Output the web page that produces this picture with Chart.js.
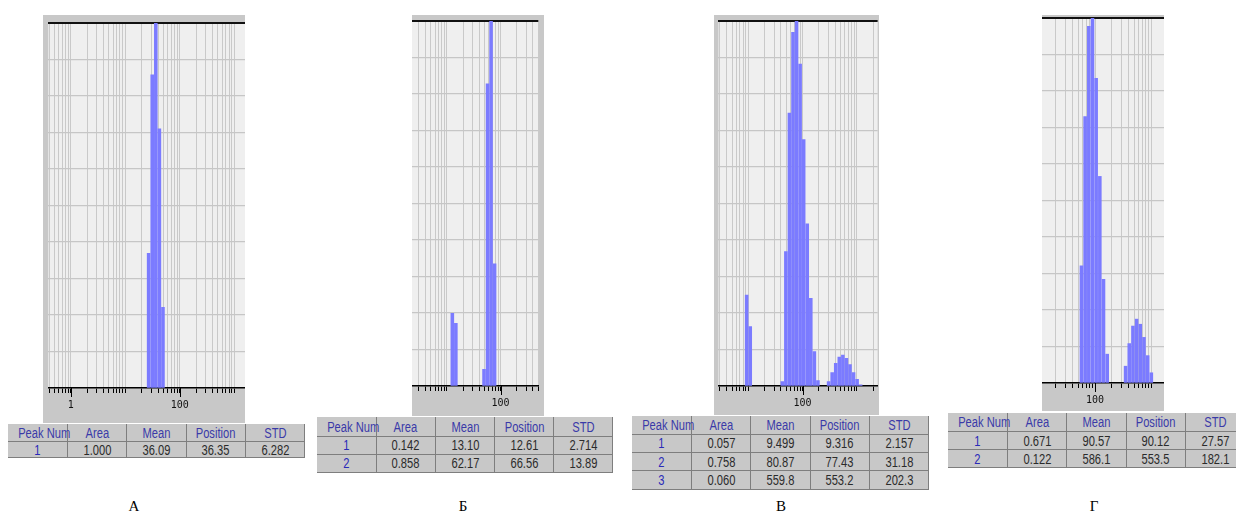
<!DOCTYPE html>
<html><head><meta charset="utf-8">
<script src="https://cdn.jsdelivr.net/npm/chart.js@4.4.1/dist/chart.umd.min.js"></script>
<style>
html,body{margin:0;padding:0;background:#fff;}
#page{position:relative;width:1236px;height:512px;overflow:hidden;background:#fff;}
canvas{display:block;}
table.pk{position:absolute;border-collapse:collapse;table-layout:fixed;background:#c8c8c8;
  font-family:"Liberation Sans",Arial,sans-serif;font-size:15.5px;color:#2b2b2b;}
table.pk td{border-right:1px solid #7e7e7e;border-bottom:1px solid #7e7e7e;text-align:center;padding:0;line-height:1;white-space:nowrap;overflow:visible;}
table.pk td span{display:inline-block;transform:scaleX(0.72);transform-origin:50% 50%;}
table.pk tr.h td{color:#3a3aa8;}
table.pk td.n{color:#2a2ab8;}
.lbl{position:absolute;font-family:"Liberation Serif","Times New Roman",serif;font-size:15px;color:#000;transform:translate(-50%,-50%);}
</style></head>
<body><div id="page"></div>
<script>
// ---- data ----
const SIZES_A  = [26.86, 31.25, 36.36, 42.29, 49.20];
const VALUES_A = [36.9, 85.8, 100, 71.0, 22.1];

const SIZES_B  = [12.61, 14.67, 49.20, 57.24, 66.59, 77.46];
const VALUES_B = [19.9, 17.2, 4.6, 82.8, 100, 33.5];

const SIZES_V  = [9.316, 10.84, 42.29, 49.20, 57.24, 66.59, 77.46, 90.12, 104.8, 121.9, 141.8, 165.0, 191.9,
                  302.2, 351.5, 408.9, 475.7, 553.4, 643.8, 749.0, 871.4, 1013.7, 1179.3];
const VALUES_V = [24.9, 16.3, 1.2, 36.8, 74.8, 96.9, 100, 88.2, 67.5, 44.4, 24.0, 9.4, 1.5,
                  1.2, 3.7, 6.2, 7.9, 8.5, 7.6, 5.9, 3.7, 1.8, 0.3];

const SIZES_G  = [57.24, 66.59, 77.46, 90.12, 104.8, 121.9, 141.8, 165.0,
                  351.5, 408.9, 475.7, 553.4, 643.8, 749.0, 871.4, 1013.7];
const VALUES_G = [32.1, 73.0, 97.7, 100, 83.5, 56.6, 28.4, 7.9,
                  4.6, 10.8, 15.6, 17.5, 16.1, 12.5, 7.5, 2.8];

const TABLE_HEAD = ['Peak Num', 'Area', 'Mean', 'Position', 'STD'];
const PEAKS_A = [['1', '1.000', '36.09', '36.35', '6.282']];
const PEAKS_B = [['1', '0.142', '13.10', '12.61', '2.714'], ['2', '0.858', '62.17', '66.56', '13.89']];
const PEAKS_V = [['1', '0.057', '9.499', '9.316', '2.157'], ['2', '0.758', '80.87', '77.43', '31.18'], ['3', '0.060', '559.8', '553.2', '202.3']];
const PEAKS_G = [['1', '0.671', '90.57', '90.12', '27.57'], ['2', '0.122', '586.1', '553.5', '182.1']];

const PANEL_LABELS = ['А', 'Б', 'В', 'Г'];
const X_TICK_LABELS = [1, 100, 10000];
const X_RANGES = [[0.388, 1571], [2.23, 507], [2.81, 2421], [11.3, 1706]];

// ---- layout (positions / sizes) ----
const LAYOUT = [
  {box: [43, 15, 202, 408],  top: 8, bottom: 35, table: [8, 424, 297],   rowH: [17, 16],   label: [134, 506]},
  {box: [412, 15, 132, 401], top: 6, bottom: 30, table: [317, 417, 296], rowH: [19, 18],   label: [463, 506]},
  {box: [714, 15, 165, 400], top: 6, bottom: 29, table: [632, 416, 297], rowH: [18, 18.4], label: [781, 506]},
  {box: [1042, 15, 122, 396], top: 3, bottom: 28, table: [948, 413, 297], rowH: [18.3, 18], label: [1094, 506]}
];

const page = document.getElementById('page');

const GRID_VALUES = [];
for (let e = -1; e <= 4; e++) for (let m = 1; m <= 9; m++) GRID_VALUES.push(Number((m * Math.pow(10, e)).toPrecision(6)));

const bgPlugin = {
  id: 'bg',
  beforeDraw(chart) {
    const a = chart.chartArea, c = chart.ctx;
    c.save(); c.fillStyle = '#efefef'; c.fillRect(a.left, a.top, a.right - a.left, a.bottom - a.top); c.restore();
  }
};
const majorTickPlugin = {
  id: 'majorTicks',
  afterDraw(chart) {
    const s = chart.scales.x, c = chart.ctx, a = chart.chartArea;
    c.save(); c.strokeStyle = '#000'; c.lineWidth = 1;
    X_TICK_LABELS.forEach(v => {
      if (v < s.min || v > s.max) return;
      const x = Math.round(s.getPixelForValue(v)) + 0.5;
      c.beginPath(); c.moveTo(x, a.bottom); c.lineTo(x, a.bottom + 9); c.stroke();
    });
    c.restore();
  }
};

function makePanel(i, sizes, values, peaks) {
  const L = LAYOUT[i];
  const cv = document.createElement('canvas');
  cv.width = L.box[2]; cv.height = L.box[3];
  cv.style.cssText = `position:absolute;left:${L.box[0]}px;top:${L.box[1]}px;width:${L.box[2]}px;height:${L.box[3]}px;background:#c8c8c8`;
  page.appendChild(cv);
  new Chart(cv, {
    type: 'bar',
    data: {labels: sizes, datasets: [{data: values, backgroundColor: '#7b7bff', borderWidth: 0, barThickness: 2.9}]},
    options: {
      responsive: false, animation: false, devicePixelRatio: 1,
      layout: {padding: {top: L.top, left: 0, right: 0, bottom: 0}},
      plugins: {legend: {display: false}, tooltip: {enabled: false}},
      scales: {
        x: {
          type: 'logarithmic', min: X_RANGES[i][0], max: X_RANGES[i][1], offset: false,
          grid: {offset: false, color: '#c9c9c9', lineWidth: 1, tickColor: '#000', tickLength: 5, tickWidth: 1},
          border: {display: true, color: '#000', width: 1.5},
          afterBuildTicks: s => {
            s.ticks = GRID_VALUES.filter(v => v > s.min && v < s.max).map(v => ({value: v, major: X_TICK_LABELS.includes(v)}));
          },
          ticks: {autoSkip: false, maxRotation: 0, minRotation: 0, padding: 6, color: '#111',
                  font: {family: 'DejaVu Sans Mono', size: 10},
                  callback: v => X_TICK_LABELS.includes(v) ? String(v) : ''},
          afterFit: s => { s.height = L.bottom; }
        },
        y: {
          min: 0, max: 100,
          ticks: {display: false, stepSize: 10},
          grid: {drawTicks: false, color: c => c.tick.value === 100 ? '#111' : '#c6c6c6', lineWidth: c => c.tick.value === 100 ? 2 : 1.2},
          border: {display: false},
          afterFit: s => { s.width = 0; }
        }
      }
    },
    plugins: [bgPlugin, majorTickPlugin]
  });

  // table
  const t = document.createElement('table');
  t.className = 'pk';
  t.style.left = L.table[0] + 'px'; t.style.top = L.table[1] + 'px'; t.style.width = L.table[2] + 'px';
  const cg = document.createElement('colgroup');
  TABLE_HEAD.forEach(() => { const c = document.createElement('col'); c.style.width = (L.table[2] / 5) + 'px'; cg.appendChild(c); });
  t.appendChild(cg);
  const addCell = (tr, text, cls) => {
    const td = document.createElement('td'); if (cls) td.className = cls;
    const sp = document.createElement('span'); sp.textContent = text; td.appendChild(sp); tr.appendChild(td);
  };
  const hr = document.createElement('tr'); hr.className = 'h'; hr.style.height = L.rowH[0] + 'px';
  TABLE_HEAD.forEach(h => addCell(hr, h));
  t.appendChild(hr);
  peaks.forEach(row => {
    const tr = document.createElement('tr'); tr.style.height = L.rowH[1] + 'px';
    row.forEach((v, j) => addCell(tr, v, j === 0 ? 'n' : ''));
    t.appendChild(tr);
  });
  page.appendChild(t);

  const lb = document.createElement('div');
  lb.className = 'lbl'; lb.textContent = PANEL_LABELS[i];
  lb.style.left = L.label[0] + 'px'; lb.style.top = L.label[1] + 'px';
  page.appendChild(lb);
}

makePanel(0, SIZES_A, VALUES_A, PEAKS_A);
makePanel(1, SIZES_B, VALUES_B, PEAKS_B);
makePanel(2, SIZES_V, VALUES_V, PEAKS_V);
makePanel(3, SIZES_G, VALUES_G, PEAKS_G);
</script>
</body></html>
